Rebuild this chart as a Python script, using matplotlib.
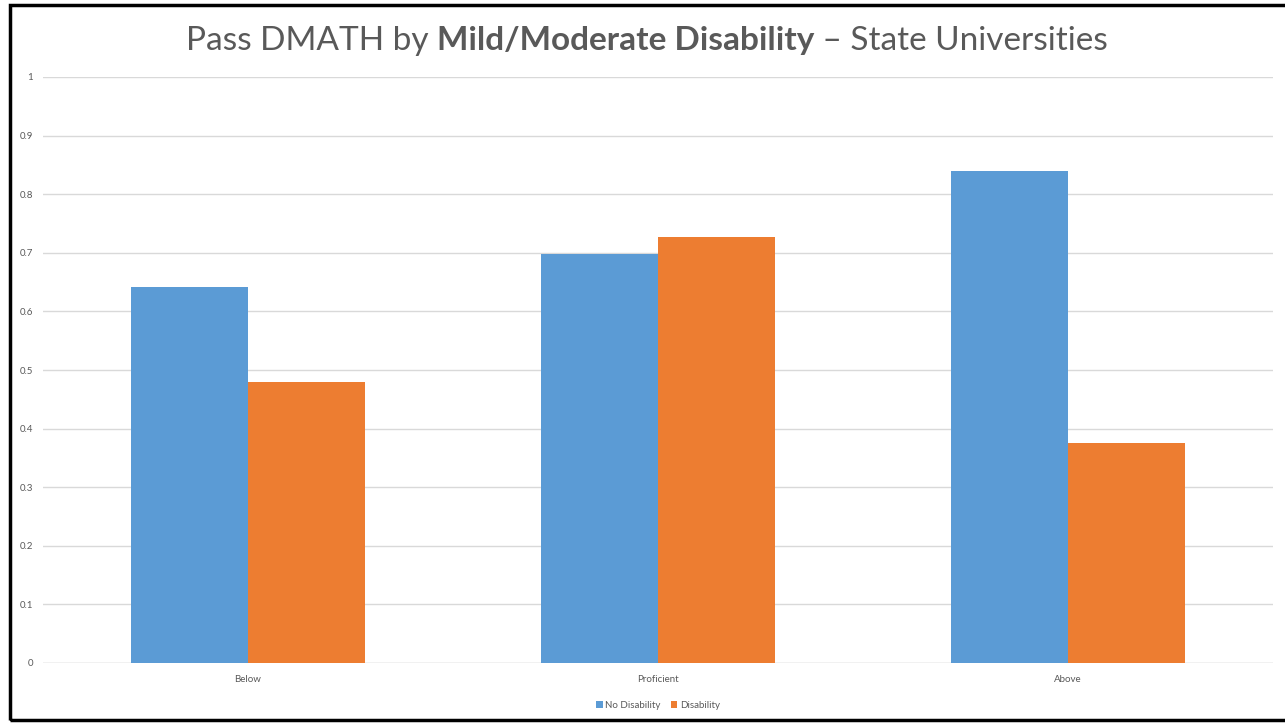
import matplotlib
matplotlib.use("Agg")
import matplotlib.pyplot as plt
from matplotlib.patches import Rectangle
import numpy as np

# --- datos ---
categories = ["Below", "Proficient", "Above"]
no_disability = [0.642, 0.698, 0.839]
disability = [0.479, 0.727, 0.375]
series_names = ["No Disability", "Disability"]
yticks = [0, 0.1, 0.2, 0.3, 0.4, 0.5, 0.6, 0.7, 0.8, 0.9, 1]
ytick_labels = ["0", "0.1", "0.2", "0.3", "0.4", "0.5", "0.6", "0.7", "0.8", "0.9", "1"]

BLUE = "#5B9BD5"
ORANGE = "#ED7D31"
GRAY_TXT = "#595959"
GRID = "#D9D9D9"
W, H = 1285, 723

plt.rcParams["font.family"] = ["Lato", "DejaVu Sans"]

fig = plt.figure(figsize=(W / 100, H / 100), dpi=100)
ax = fig.add_axes([43 / W, (H - 663) / H, (1273 - 43) / W, 586 / H])

x = np.arange(len(categories))
bw = 117 / 410
ax.bar(x - bw / 2, no_disability, bw, color=BLUE, label=series_names[0], zorder=3)
ax.bar(x + bw / 2, disability, bw, color=ORANGE, label=series_names[1], zorder=3)

ax.set_xlim(-0.5, len(categories) - 0.5)
ax.set_ylim(0, 1)
ax.set_yticks(yticks)
ax.set_yticklabels(ytick_labels)
ax.set_xticks(x)
ax.set_xticklabels(categories)
ax.tick_params(axis="both", length=0, labelsize=7, labelcolor=GRAY_TXT)
ax.tick_params(axis="y", pad=7)
ax.tick_params(axis="x", pad=9)
ax.grid(axis="y", color=GRID, linewidth=1, zorder=0)
for s in ax.spines.values():
    s.set_visible(False)
ax.axhline(0, color=GRID, linewidth=1, zorder=2)

ax.legend(loc="center", bbox_to_anchor=(0.5, -0.072), ncol=2, frameon=False,
          fontsize=7, labelcolor=GRAY_TXT, handlelength=0.7, handleheight=0.7,
          handletextpad=0.3, columnspacing=1.0)

# titulo con parte en negrita
parts = [("Pass DMATH by ", "normal"), ("Mild/Moderate Disability", "bold"),
         (" \u2013 State Universities", "normal")]
fs = 24
renderer = fig.canvas.get_renderer()
texts = []
for s, wgt in parts:
    t = fig.text(0, 1 - 50 / H, s, fontsize=fs, fontweight=wgt, color=GRAY_TXT,
                 va="baseline", ha="left")
    texts.append(t)
widths = [t.get_window_extent(renderer).width for t in texts]
x0 = (647 - sum(widths) / 2)
for t, w in zip(texts, widths):
    t.set_x(x0 / W)
    x0 += w

# marco
fig.patches.append(Rectangle((9.5 / W, 3.5 / H), (W + 10) / W, (H - 8) / H,
                             transform=fig.transFigure, fill=False,
                             edgecolor="black", linewidth=2.5))

fig.savefig("out.png", dpi=100)
